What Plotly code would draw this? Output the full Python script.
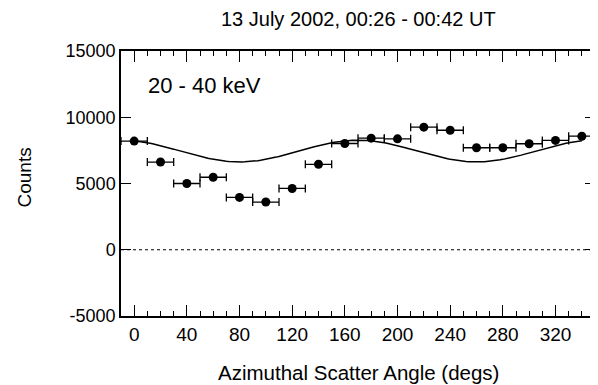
import numpy as np
import plotly.graph_objects as go

# Data
angles = [0, 20, 40, 60, 80, 100, 120, 140, 160, 180, 200, 220, 240, 260, 280, 300, 320, 340]
counts = [8200, 6620, 5000, 5470, 3950, 3600, 4625, 6450, 8020, 8420, 8370, 9250, 9020, 7700, 7700, 8000, 8250, 8570]
bin_half_width = [10] * len(angles)

# Fitted modulation curve parameters (mean + amp*cos(2*(phi - phase)))
fit_mean = 7450
fit_amp = 820
fit_phase = 170
fit_angles = np.arange(0, 341, 2)
fit_counts = fit_mean + fit_amp * np.cos(np.radians(2 * (fit_angles - fit_phase)))

title_text = "13 July 2002, 00:26 - 00:42 UT"
band_text = "20 - 40 keV"
x_title = "Azimuthal Scatter Angle (degs)"
y_title = "Counts"
x_ticks = [0, 40, 80, 120, 160, 200, 240, 280, 320]
y_ticks = [-5000, 0, 5000, 10000, 15000]

FONT = "Liberation Sans, Arial, sans-serif"

fig = go.Figure()
fig.add_trace(go.Scatter(
    x=fit_angles, y=fit_counts, mode="lines",
    line=dict(color="black", width=1.5), showlegend=False, hoverinfo="skip"))
fig.add_trace(go.Scatter(
    x=angles, y=counts, mode="markers",
    marker=dict(color="black", size=9, symbol="circle"),
    error_x=dict(type="data", array=bin_half_width, color="black", thickness=1.3, width=4),
    showlegend=False))

fig.add_hline(y=0, line=dict(color="black", width=1, dash="dot"))

# page body has an 8px default margin, so the figure is sized/offset to compensate
fig.update_layout(
    width=590, height=377,
    margin=dict(l=113, r=1, t=43, b=69, pad=0),
    paper_bgcolor="white", plot_bgcolor="white",
    font=dict(family=FONT, size=18, color="black"),
    showlegend=False,
)
fig.update_xaxes(
    range=[-10, 350], tickvals=x_ticks, ticktext=[str(v) for v in x_ticks],
    ticks="inside", ticklen=11, tickwidth=1, tickcolor="black",
    minor=dict(dtick=10, tick0=0, ticks="inside", ticklen=5, tickwidth=1, tickcolor="black", showgrid=False),
    showline=True, linecolor="black", linewidth=1.5, mirror="ticks",
    showgrid=False, zeroline=False, tickfont=dict(size=19),
)
fig.update_yaxes(
    range=[-5000, 15000], tickvals=y_ticks, ticktext=[str(v) for v in y_ticks],
    ticks="inside", ticklen=10, tickwidth=1, tickcolor="black",
    showline=True, linecolor="black", linewidth=1.5, mirror="ticks",
    showgrid=False, zeroline=False, tickfont=dict(size=18),
)

fig.add_annotation(text=title_text, xref="paper", yref="paper", x=0.5, y=1,
                   yshift=45, showarrow=False, font=dict(size=20), xanchor="center", yanchor="top")
fig.add_annotation(text=band_text, xref="paper", yref="paper", x=0.053, y=0.868,
                   showarrow=False, font=dict(size=22), xanchor="left", yanchor="middle")
fig.add_annotation(text=x_title, xref="paper", yref="paper", x=0.5, y=0,
                   yshift=-56, showarrow=False, font=dict(size=20.5), xanchor="center", yanchor="middle")
fig.add_annotation(text=y_title, xref="paper", yref="paper", x=0, y=0.5,
                   xshift=-97, yshift=6, showarrow=False, textangle=-90, font=dict(size=19),
                   xanchor="center", yanchor="middle")

fig.write_html("out.html")
